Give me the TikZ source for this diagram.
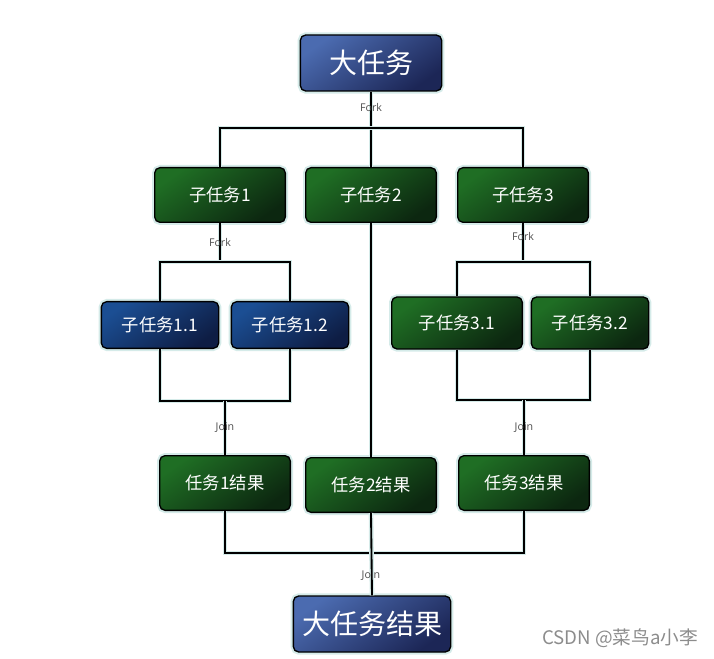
\documentclass[tikz,border=0pt]{standalone}
\usepackage{fontspec}
\setmainfont{Noto Sans CJK SC}
\newfontfamily\labelfont{Open Sans}
\usetikzlibrary{positioning, calc}
\definecolor{greenlight}{HTML}{1F6E24}
\definecolor{greendark}{HTML}{0C2710}
\definecolor{bluelight}{HTML}{1B4E93}
\definecolor{bluedark}{HTML}{0E1D44}
\definecolor{biglight}{HTML}{4B6BB0}
\definecolor{bigdark}{HTML}{1C2656}
\definecolor{glow}{HTML}{D5EBE9}

\begin{document}
\begin{tikzpicture}[x=0.75pt, y=-0.75pt,
      task/.style={draw=black, line width=1pt, rounded corners=4pt, text=white,
        minimum width=98pt, minimum height=41pt, text centered, font=\fontsize{13}{15}\selectfont,
        preaction={draw=glow, line width=4pt}},
      greentask/.style={task, top color=greenlight, bottom color=greendark, shading angle=35},
      bluetask/.style={task, top color=bluelight, bottom color=bluedark, shading angle=35,
        minimum width=88pt, minimum height=35pt},
      bigtask/.style={task, top color=biglight, bottom color=bigdark, shading angle=35,
        minimum height=42pt, font=\fontsize{21}{24}\selectfont},
      tag/.style={text=black!70, font=\labelfont\fontsize{8}{9}\selectfont, inner sep=1pt},
      link/.style={line width=1.4pt, draw=black, preaction={draw=glow, line width=3.5pt}}
          ]
        \useasboundingbox (0,0) rectangle (714,659);

        % Big task
        \node (big) [bigtask, minimum width=106pt] at (371,63) {大任务};

        % Sub tasks
        \node (t1) [greentask] at (220,195) {子任务1};
        \node (t2) [greentask] at (371,195) {子任务2};
        \node (t3) [greentask] at (523,195) {子任务3};

        % Sub sub tasks
        \node (t11) [bluetask] at (160,325) {子任务1.1};
        \node (t12) [bluetask] at (290,325) {子任务1.2};
        \node (t31) [greentask, minimum width=98pt, minimum height=39pt] at (457,323) {子任务3.1};
        \node (t32) [greentask, minimum width=88pt, minimum height=39pt] at (590,323) {子任务3.2};

        % Results
        \node (r1) [greentask] at (225,483) {任务1结果};
        \node (r2) [greentask] at (371,485) {任务2结果};
        \node (r3) [greentask] at (524,483) {任务3结果};

        % Big result
        \node (final) [bigtask, minimum width=118pt] at (372,624) {大任务结果};

        % Fork / join points
        \coordinate (f0) at (371,128);
        \coordinate (f1) at (220,262);
        \coordinate (f3) at (523,262);
        \coordinate (j1) at (225,401);
        \coordinate (j3) at (524,400);
        \coordinate (j0) at (371,553);

        % Fork lines
        \draw [link] (big.south) -- (t2.north);
        \draw [link] (t1.north) |- (f0) -| (t3.north);
        \draw [link] (t1.south) -- (f1);
        \draw [link] (t11.north) |- (f1) -| (t12.north);
        \draw [link] (t3.south) -- (f3);
        \draw [link] (t31.north) |- (f3) -| (t32.north);

        % Join lines
        \draw [link] (t11.south) |- (j1) -| (t12.south);
        \draw [link] (j1) -- (r1.north);
        \draw [link] (t31.south) |- (j3) -| (t32.south);
        \draw [link] (j3) -- (r3.north);
        \draw [link] (t2.south) -- (r2.north);
        \draw [link] (r1.south) |- (j0) -| (r3.south);
        \draw [link] (r2.south) -- (final.north);

        % Labels
        \node (fork0) [tag] at (371,108) {Fork};
        \node (fork1) [tag] at (220,243) {Fork};
        \node (fork3) [tag] at (523,237) {Fork};
        \node (join1) [tag] at (225,428) {Join};
        \node (join3) [tag] at (524,428) {Join};
        \node (join0) [tag] at (371,576) {Join};

        % Watermark
        \node (mark) [text=black!45, font=\fontsize{14}{16}\selectfont] at (620,638) {CSDN @菜鸟a小李};

          \end{tikzpicture}
\end{document}
